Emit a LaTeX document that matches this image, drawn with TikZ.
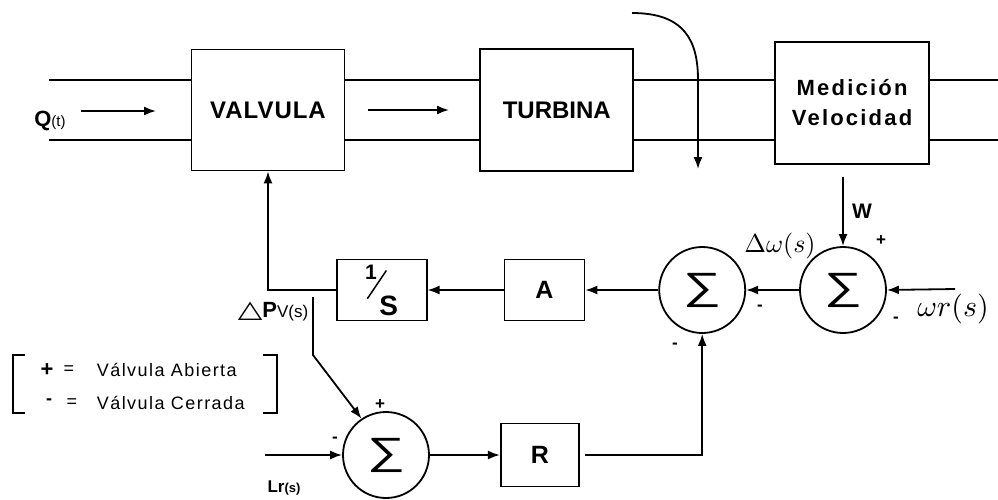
\documentclass[tikz,border=0pt]{standalone}
\usepackage{fontspec}
\setmainfont{Liberation Sans}
\newfontfamily\symfont{DejaVu Sans}
\usetikzlibrary{arrows.meta,positioning,calc}
\newcommand{\fsz}[1]{\fontsize{#1}{#1}\selectfont}
\newcommand{\sumsym}{\scalebox{1.4}[1]{∑}}

\begin{document}
\begin{tikzpicture}[x=1pt, y=-1pt, line width=1.8pt, >={Latex[length=12pt,width=9pt]},
  blk/.style={draw, inner sep=0pt, font=\bfseries\fsz{25}},
  sumnode/.style={draw, circle, minimum size=86pt, inner sep=0pt, font=\mdseries\fsz{38}},
  sgn/.style={inner sep=0pt, font=\bfseries\fsz{17}}]
\useasboundingbox (0,0) rectangle (998,499);
% planta
\node[blk, minimum width=153pt, minimum height=121pt,
  font=\bfseries\fsz{24}\addfontfeature{LetterSpace=4}] (valv) at (268,110) {VALVULA};
\node[blk, minimum width=153pt, minimum height=122pt, font=\bfseries\fsz{24},
  right=134pt of valv] (turb) {TURBINA};
\node[blk, minimum width=154pt, minimum height=122pt, align=center,
  font=\bfseries\fsz{22}\addfontfeature{LetterSpace=10},
  right=140pt of turb, yshift=7pt] (med) {Medición\\[8pt]Velocidad};
\coordinate (pin) at (49,110);
\coordinate (pout) at (998,110);
\foreach \py in {80,140}{
  \draw (pin |- 0,\py) -- (valv.west |- 0,\py);
  \draw (valv.east |- 0,\py) -- (turb.west |- 0,\py);
  \draw (turb.east |- 0,\py) -- (med.west |- 0,\py);
  \draw (med.east |- 0,\py) -- (pout |- 0,\py);
}
\node[inner sep=0pt, font=\bfseries\fsz{22}] (qlab) at (50,121) {Q{\mdseries\fsz{15}(t)}};
\coordinate (qa) at (81,111);
\coordinate (qb) at (156,111);
\draw[->] (qa) -- (qb);
\coordinate (fa) at (368,110);
\coordinate (fb) at (449,110);
\draw[->] (fa) -- (fb);
\coordinate (cstart) at (632,13);
\coordinate (cend) at (698,169);
\draw[->] (cstart) .. controls (684,13) and (698,40) .. (698,80) -- (cend);
% lazo de control
\node[sumnode] (s2) at (843,290) {\sumsym};
\node[sumnode, left=53pt of s2] (s1) {\sumsym};
\node[blk, minimum width=80pt, minimum height=61pt, left=73pt of s1] (ablk) {A};
\node[blk, minimum width=90pt, minimum height=61pt, left=76pt of ablk] (inv)
  {\raisebox{36pt}{\fsz{21}1}\kern-10pt\raisebox{16pt}{\rotatebox{56}{\rule{34pt}{1.5pt}}}\kern-7.5pt{\fsz{28}S}};
\node[sumnode] (s3) at (386,455) {\sumsym};
\node[blk, minimum width=78pt, minimum height=63pt, right=70pt of s3] (rblk) {R};
\coordinate (wfrom) at ([yshift=-12pt]med.south);
\draw[->] (wfrom -| s2.north) -- (s2.north);
\coordinate (wrin) at (955,289);
\draw[->] (wrin) -- (s2.east);
\draw[->] (s2.west) -- (s1.east);
\draw[->] (s1.west) -- (ablk.east);
\draw[->] (ablk.west) -- (inv.east);
\draw[->] (inv.west) -| (valv.south);
\coordinate (tap) at (313,297);
\coordinate (tapk) at (313,355);
\draw[->] (tap) -- (tapk) -- (s3.124);
\coordinate (lrin) at (265,455);
\draw[->] (lrin) -- (s3.west);
\draw[->] (s3.east) -- (rblk.west);
\draw[->] ([xshift=5pt]rblk.east) -| (s1.south);
% etiquetas
\node[inner sep=0pt, font=\bfseries\fsz{21}] (wlab) at (862,211) {W};
\node[inner sep=0pt] (dwlab) at (780,246) {\scalebox{2.6}{$\Delta\omega(s)$}};
\node[inner sep=0pt] (wrlab) at (953,309) {\scalebox{3}{$\omega r(s)$}};
\node[sgn] (p2) at (881,241) {+};
\node[sgn] (m2) at (896,320) {-};
\node[sgn] (m1r) at (760,308) {-};
\node[sgn] (m1b) at (675,346) {-};
\node[sgn] (p3) at (380,405) {+};
\node[sgn] (m3) at (335,440) {-};
\node[inner sep=0pt, font=\bfseries\fsz{22}] (dpv) at (273,312)
  {\scalebox{1.6}[1.2]{\fsz{20}\symfont △}P{\mdseries\fsz{17}V(s)}};
\node[inner sep=0pt, font=\bfseries\fsz{17}] (lrlab) at (284,488) {Lr{\fsz{13}(s)}};
% leyenda
\draw (25,355) -- (13,355) -- (13,413) -- (25,413);
\draw (263,355) -- (277,355) -- (277,413) -- (263,413);
\node[inner sep=0pt, font=\bfseries\fsz{22}] (lplus) at (47,370) {+};
\node[inner sep=0pt, font=\fsz{18}] (leq1) at (69,370) {=};
\node[inner sep=0pt, anchor=west, font=\fsz{18}\addfontfeature{LetterSpace=8}] (ltxt1) at (96,370) {Válvula Abierta};
\node[inner sep=0pt, font=\bfseries\fsz{18}] (lminus) at (49,402) {-};
\node[inner sep=0pt, font=\fsz{18}] (leq2) at (72,403) {=};
\node[inner sep=0pt, anchor=west, font=\fsz{18}\addfontfeature{LetterSpace=8}] (ltxt2) at (96,403) {Válvula Cerrada};
\end{tikzpicture}
\end{document}
